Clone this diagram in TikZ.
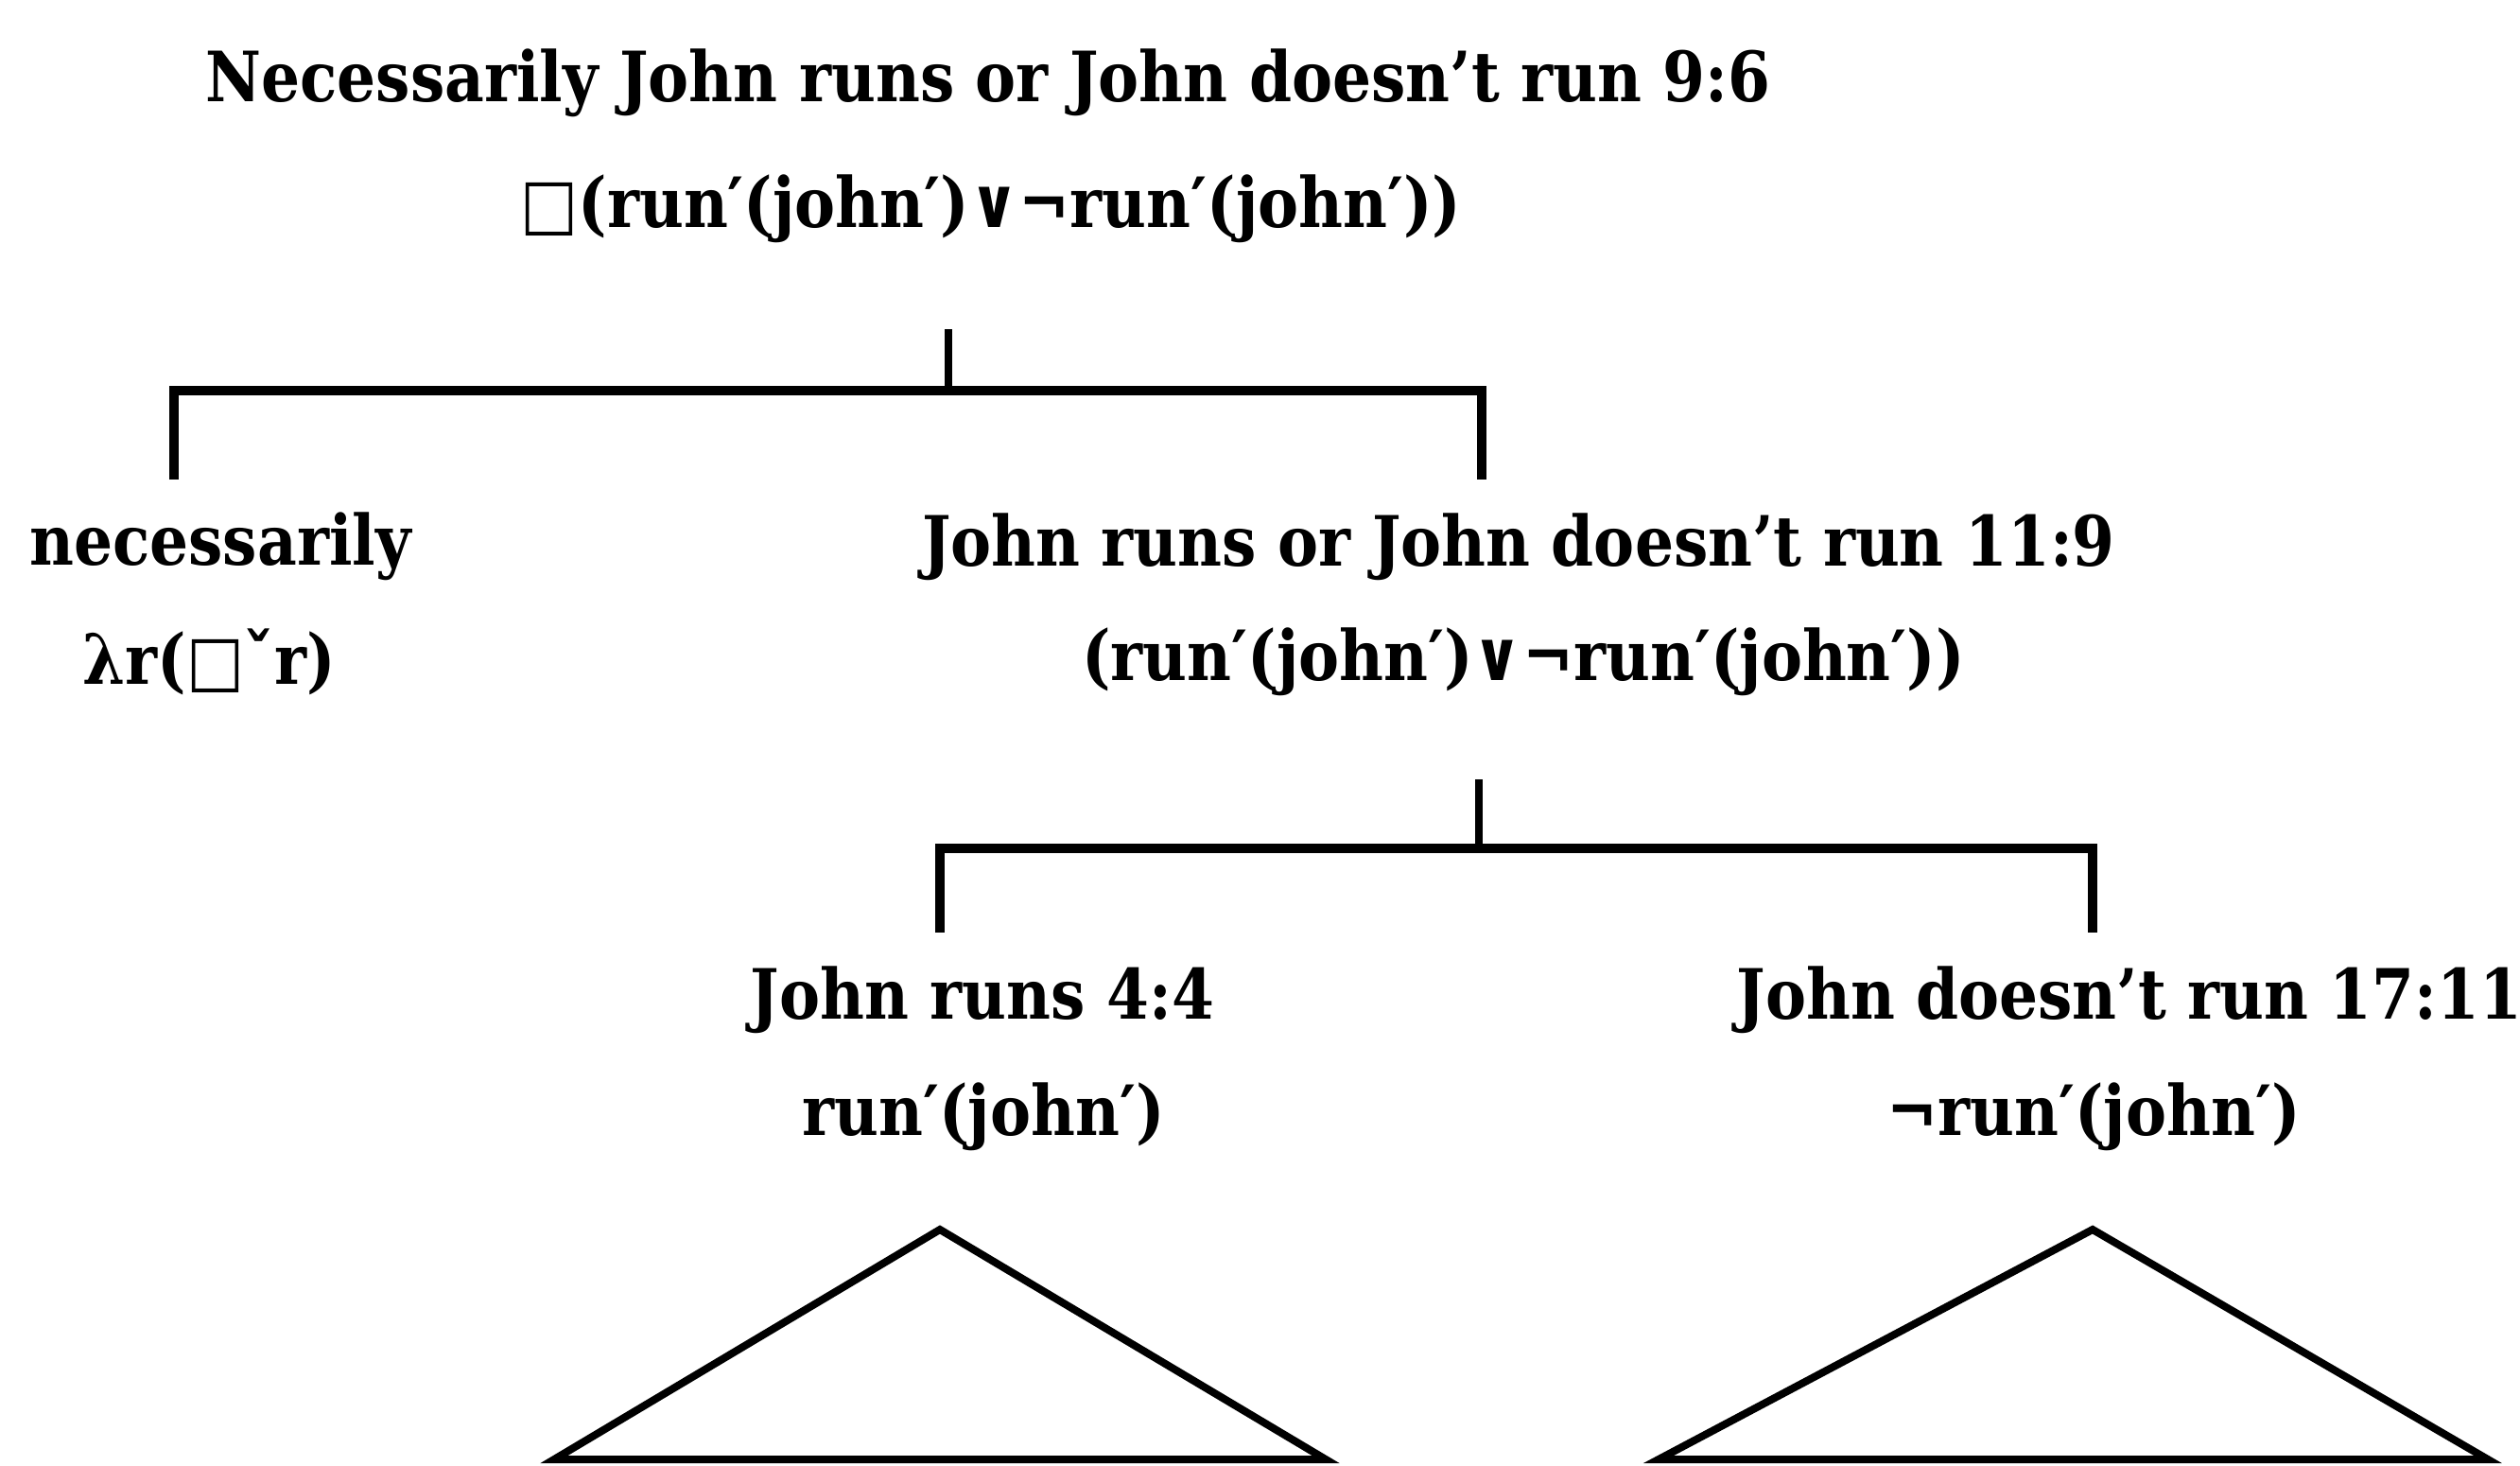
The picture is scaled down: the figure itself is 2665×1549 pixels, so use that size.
\documentclass[tikz,border=0pt]{standalone}
\usepackage{fontspec}
\setmainfont{DejaVu Serif}[FakeStretch=0.88]
\newfontfamily\symf{DejaVu Sans}[FakeStretch=0.88]
\newcommand{\bx}{{\symf □}}
\newcommand{\vor}{{\symf ∨}}
\begin{document}
\begin{tikzpicture}[x=0.3pt,y=-0.3pt,
  lbl/.style={inner sep=0pt,font=\fontsize{22}{26}\selectfont\bfseries},
  edge/.style={line width=2.4pt},
  bar/.style={line width=3pt},
  tri/.style={line width=2.4pt,line join=miter}]
\useasboundingbox (0,0) rectangle (2665,1549);
% top
\node[lbl] (t1) at (1045,88) {Necessarily John runs or John doesn't run 9:6};
\node[lbl] (t2) at (1048,221) {\bx(run′(john′)\vor¬run′(john′))};
% level 1
\node[lbl] (n1) at (233,578) {necessarily};
\node[lbl] (n2) at (221,700) {λr(\bx ˇr)};
\node[lbl] (r1) at (1606,578) {John runs or John doesn't run 11:9};
\node[lbl] (r2) at (1611,700) {(run′(john′)\vor¬run′(john′))};
% level 2
\node[lbl] (j1) at (1039,1057) {John runs 4:4};
\node[lbl] (j2) at (1040,1181) {run′(john′)};
\node[lbl] (d1) at (2252,1057) {John doesn't run 17:11};
\node[lbl] (d2) at (2214,1181) {¬run′(john′)};
% branch 1
\coordinate (a1) at (1003,348);
\coordinate (a2) at (1003,413);
\coordinate (aL) at (184,507);
\coordinate (aR) at (1567,507);
\draw[edge] (a1) -- (a2);
\draw[bar] (aL) |- (a2) -| (aR);
% branch 2
\coordinate (b1) at (1564,824);
\coordinate (b2) at (1564,897);
\coordinate (bL) at (994,986);
\coordinate (bR) at (2213,986);
\draw[edge] (b1) -- (b2);
\draw[bar] (bL) |- (b2) -| (bR);
% triangles
\coordinate (p1) at (994,1300);
\coordinate (q1) at (586,1543);
\coordinate (w1) at (1402,1543);
\draw[tri] (p1) -- (q1) -- (w1) -- cycle;
\coordinate (p2) at (2213,1300);
\coordinate (q2) at (1754,1543);
\coordinate (w2) at (2631,1543);
\draw[tri] (p2) -- (q2) -- (w2) -- cycle;
\end{tikzpicture}
\end{document}
